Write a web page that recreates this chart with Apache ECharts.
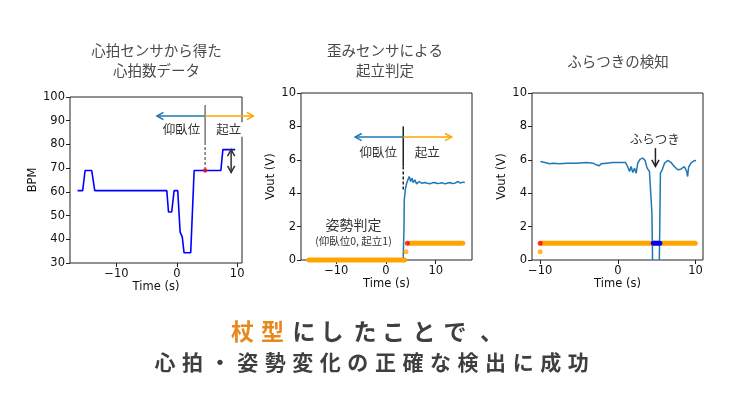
<!DOCTYPE html>
<html><head><meta charset="utf-8">
<script src="https://cdn.jsdelivr.net/npm/echarts@6/dist/echarts.min.js"></script>
<style>html,body{margin:0;padding:0;background:#fff}#c{width:736px;height:414px}</style>
</head><body><div id="c"></div>
<script>
// ---------- data ----------
// Chart 1: heart rate
const hrTime = [-16.45, -15.6, -15.2, -14.1, -13.6, -1.66, -1.38, -0.85, -0.45, 0.15, 0.55, 0.8, 0.9, 1.2, 2.3, 2.87, 7.3, 7.63, 9.67];
const hrBpm  = [60.5, 60.5, 69, 69, 60.5, 60.5, 51.5, 51.5, 60.5, 60.5, 43, 43, 41, 34.3, 34.3, 69, 69, 77.8, 77.8];
const hrStandPoint = [4.69, 69];
const hrTicksX = [-10, 0, 10];

// Chart 2: strain sensor / posture
const strainTime = [-15.6, -12, -8, -4, 0, 3.45, 3.61, 3.68, 3.88, 4.15, 4.41, 4.68, 4.95, 5.22, 5.48, 5.82, 6.15, 6.69, 7.16, 7.83, 8.3, 8.83, 9.3, 9.83, 10.3, 10.84, 11.3, 11.84, 12.3, 12.84, 13.3, 13.85, 14.5, 14.98, 15.4, 15.85];
const strainVout = [0.03, 0.03, 0.04, 0.03, 0.04, 0.04, 1.8, 3.6, 4.2, 4.6, 4.8, 5.0, 4.7, 4.9, 4.64, 4.8, 4.56, 4.7, 4.6, 4.64, 4.6, 4.56, 4.62, 4.64, 4.58, 4.6, 4.63, 4.56, 4.6, 4.64, 4.58, 4.6, 4.7, 4.6, 4.66, 4.64];
const postureLyingTime = [-15.5, 3.75];
const postureLyingVal = [0, 0];
const postureMidPoint = [4.0, 0.5];
const postureStandPoint = [4.3, 1];
const postureStandTime = [4.75, 15.45];
const postureStandVal = [1, 1];
const strainTicksX = [-10, 0, 10];

// Chart 3: sway detection (null = signal off the bottom of the scale)
const swayTime = [-9.96, -9.4, -8.76, -8.33, -7.5, -6.6, -5.3, -4.06, -3.2, -2.78, -2.44, -2.14, -1.5, -0.64, 0.21, 0.98, 1.28, 1.5, 1.7, 1.92, 2.14, 2.35, 2.56, 2.86, 3.2, 3.5, 3.76, 4.06, 4.27, 4.38, 4.46, 4.9, 5.33, 5.41, 5.47, 5.7, 6.0, 6.4, 6.84, 7.26, 7.7, 8.1, 8.55, 8.85, 8.97, 9.1, 9.4, 9.83, 10.04];
const swayVout = [5.9, 5.84, 5.76, 5.8, 5.76, 5.8, 5.8, 5.84, 5.8, 5.7, 5.64, 5.76, 5.8, 5.84, 5.84, 5.84, 5.56, 5.3, 5.6, 5.24, 5.5, 5.2, 5.8, 6.04, 6.1, 5.96, 5.5, 5.3, 5.2, 2.8, 0, null, 0, 2.8, 5.2, 5.4, 5.8, 5.96, 5.84, 5.6, 5.4, 5.44, 5.6, 5.3, 5.0, 5.56, 5.8, 5.96, 5.94];
const swayPostureTime = [-9.8, 9.95];
const swayPostureVal = [1, 1];
const swayStartPoint = [-10, 1];
const swayMidPoint = [-10, 0.5];
const swayDetectTime = [4.55, 5.4];
const swayDetectVal = [1, 1];
const swayTicksX = [-10, 0, 10];

// ---------- helpers ----------
const CJK = '"Noto Sans CJK JP", "Noto Sans CJK SC", sans-serif';
const LAT = '"DejaVu Sans", sans-serif';
const zip = (a, b) => a.map((v, i) => [v, b[i] === null ? '-' : b[i]]);
const minus = v => String(v).replace('-', '\u2212');

function headShape(tip, from, color, lw) {
  const dx = tip[0] - from[0], dy = tip[1] - from[1];
  const L = Math.hypot(dx, dy) || 1, ux = dx / L, uy = dy / L;
  const hl = 6.5, hw = 3.6;
  const bx = tip[0] - ux * hl, by = tip[1] - uy * hl;
  return { type: 'polyline', shape: { points: [[bx - uy * hw, by + ux * hw], tip, [bx + uy * hw, by - ux * hw]] },
    style: { stroke: color, lineWidth: lw, fill: null } };
}

function annSeries(idx, spec) {
  return {
    type: 'custom', xAxisIndex: idx, yAxisIndex: idx, clip: false, silent: true, z: 20,
    data: [[0, 0]],
    renderItem: function (params, api) {
      const ch = [];
      (spec.lines || []).forEach(l => {
        const a = api.coord(l.from), b = api.coord(l.to);
        ch.push({ type: 'line', shape: { x1: a[0], y1: a[1], x2: b[0], y2: b[1] },
          style: { stroke: l.color, lineWidth: l.lw || 1.5, lineDash: l.dash ? [3, 2] : null } });
      });
      (spec.arrows || []).forEach(l => {
        const a = api.coord(l.from), b = api.coord(l.to);
        ch.push({ type: 'line', shape: { x1: a[0], y1: a[1], x2: b[0], y2: b[1] },
          style: { stroke: l.color, lineWidth: 1.5 } });
        ch.push(headShape(b, a, l.color, 1.5));
        if (l.both) ch.push(headShape(a, b, l.color, 1.5));
      });
      (spec.texts || []).forEach(t => {
        const p = api.coord(t.at);
        const st = { text: t.text, x: 0, y: 0, fill: '#333', align: 'center', verticalAlign: 'middle',
          font: (t.size || 12.5) + 'px ' + CJK };
        if (t.bg) { st.backgroundColor = t.bg; st.padding = [1, 2]; }
        ch.push({ type: 'text', x: p[0], y: p[1], style: st });
      });
      return { type: 'group', children: ch };
    }
  };
}

function xAxisCfg(idx, min, max, ticks) {
  return {
    gridIndex: idx, type: 'value', min: min, max: max,
    axisLine: { show: false, onZero: false }, splitLine: { show: false },
    axisTick: { show: true, length: 4, customValues: ticks, lineStyle: { color: '#222', width: 1 } },
    axisLabel: { customValues: ticks, formatter: minus, fontSize: 11.5, color: '#111', fontFamily: LAT, margin: 5 },
    name: 'Time (s)', nameLocation: 'middle', nameGap: 18,
    nameTextStyle: { fontSize: 11.5, color: '#111', fontFamily: LAT, verticalAlign: 'top' }
  };
}
function yAxisCfg(idx, min, max, interval, name, gap) {
  return {
    gridIndex: idx, type: 'value', min: min, max: max, interval: interval,
    axisLine: { show: false, onZero: false }, splitLine: { show: false },
    axisTick: { show: true, length: 4, lineStyle: { color: '#222', width: 1 } },
    axisLabel: { fontSize: 11.5, color: '#111', fontFamily: LAT, margin: 5 },
    name: name, nameLocation: 'middle', nameGap: gap,
    nameTextStyle: { fontSize: 11.5, color: '#111', fontFamily: LAT }
  };
}
const gridBase = { show: true, borderColor: '#222', borderWidth: 1, backgroundColor: 'transparent', containLabel: false };

// ---------- annotations ----------
const ann1 = {
  lines: [
    { from: [4.69, 96.6], to: [4.69, 81], color: '#777' },
    { from: [4.69, 81], to: [4.69, 69.5], color: '#777', dash: true }
  ],
  arrows: [
    { from: [4.69, 92], to: [-3.3, 92], color: '#1f77b4' },
    { from: [4.69, 92], to: [12.7, 92], color: '#ffa500' },
    { from: [9.0, 68.2], to: [9.0, 77.8], color: '#333', both: true }
  ],
  texts: [
    { at: [0.77, 86.3], text: '仰臥位' },
    { at: [8.62, 86.3], text: '起立', bg: '#fff' }
  ]
};
const ann2 = {
  lines: [
    { from: [3.47, 8.0], to: [3.47, 5.6], color: '#222' },
    { from: [3.47, 5.6], to: [3.47, 4.2], color: '#222', dash: true }
  ],
  arrows: [
    { from: [3.47, 7.36], to: [-6.2, 7.36], color: '#1f77b4' },
    { from: [3.47, 7.36], to: [13.2, 7.36], color: '#ffa500' }
  ],
  texts: [
    { at: [-1.55, 6.44], text: '仰臥位' },
    { at: [8.3, 6.44], text: '起立' },
    { at: [-6.55, 2.1], text: '姿勢判定', size: 14 },
    { at: [-6.55, 1.16], text: '(仰臥位0, 起立1)', size: 10.5 }
  ]
};
const ann3 = {
  arrows: [ { from: [4.83, 6.7], to: [4.83, 5.6], color: '#222' } ],
  texts: [ { at: [4.75, 7.24], text: 'ふらつき' } ]
};

// ---------- text graphics ----------
const titleStyle = { fill: '#4a4a4a', font: '14.5px ' + CJK, align: 'center', verticalAlign: 'middle', lineHeight: 19.5 };
const graphics = [
  { type: 'text', x: 156.5, y: 60.5, style: Object.assign({ text: '心拍センサから得た\n心拍数データ' }, titleStyle) },
  { type: 'text', x: 385, y: 60.5, style: Object.assign({ text: '歪みセンサによる\n起立判定' }, titleStyle) },
  { type: 'text', x: 618, y: 61, style: Object.assign({ text: 'ふらつきの検知' }, titleStyle) }
];
const line1 = ['杖', '型', 'に', 'し', 'た', 'こ', 'と', 'で', '、'];
const line1X = [242.5, 272.5, 304, 332, 365, 393.5, 424, 455, 480];
line1.forEach((c, i) => {
  graphics.push({ type: 'text', x: line1X[i], y: 331.5, style: {
    text: c, fill: i < 2 ? '#e8891e' : '#3f3f3f', font: 'bold 23px ' + CJK,
    align: i === line1.length - 1 ? 'left' : 'center', verticalAlign: 'middle' } });
});
const line2 = Array.from('心拍・姿勢変化の正確な検出に成功');
line2.forEach((c, i) => {
  graphics.push({ type: 'text', x: 165 + i * 27.55, y: 361.7, style: {
    text: c, fill: '#3f3f3f', font: 'bold 21px ' + CJK, align: 'center', verticalAlign: 'middle' } });
});

// ---------- chart ----------
const chart = echarts.init(document.getElementById('c'), null, { renderer: 'canvas' });
chart.setOption({
  animation: false,
  backgroundColor: '#fff',
  grid: [
    Object.assign({ left: 70, top: 97, width: 172, height: 166 }, gridBase),
    Object.assign({ left: 301, top: 93, width: 171, height: 167 }, gridBase),
    Object.assign({ left: 532, top: 93, width: 171, height: 167 }, gridBase)
  ],
  xAxis: [
    xAxisCfg(0, -17.7, 10.8, hrTicksX),
    xAxisCfg(1, -17.1, 17.3, strainTicksX),
    xAxisCfg(2, -11.05, 10.95, swayTicksX)
  ],
  yAxis: [
    yAxisCfg(0, 30, 100, 10, 'BPM', 29),
    yAxisCfg(1, 0, 10, 2, 'Vout (V)', 24),
    yAxisCfg(2, 0, 10, 2, 'Vout (V)', 24)
  ],
  series: [
    // chart 1
    { type: 'line', xAxisIndex: 0, yAxisIndex: 0, data: zip(hrTime, hrBpm), showSymbol: false, symbol: 'none',
      lineStyle: { color: '#0000ff', width: 1.6 }, z: 3, clip: true },
    { type: 'scatter', xAxisIndex: 0, yAxisIndex: 0, data: [hrStandPoint], symbolSize: 4.5,
      itemStyle: { color: '#ff0000' }, z: 25 },
    annSeries(0, ann1),
    // chart 2
    { type: 'line', xAxisIndex: 1, yAxisIndex: 1, data: zip(strainTime, strainVout), symbol: 'none',
      lineStyle: { color: '#1f77b4', width: 1.5 }, z: 3, clip: true },
    { type: 'line', xAxisIndex: 1, yAxisIndex: 1, data: zip(postureLyingTime, postureLyingVal), symbol: 'none',
      lineStyle: { color: '#ffa500', width: 5, cap: 'round' }, z: 4, clip: false },
    { type: 'line', xAxisIndex: 1, yAxisIndex: 1, data: zip(postureStandTime, postureStandVal), symbol: 'none',
      lineStyle: { color: '#ffa500', width: 5, cap: 'round' }, z: 4 },
    { type: 'scatter', xAxisIndex: 1, yAxisIndex: 1, data: [postureMidPoint], symbolSize: 5,
      itemStyle: { color: '#ffa500' }, z: 5 },
    { type: 'scatter', xAxisIndex: 1, yAxisIndex: 1, data: [postureStandPoint], symbolSize: 5,
      itemStyle: { color: '#ff0000' }, z: 6 },
    annSeries(1, ann2),
    // chart 3
    { type: 'line', xAxisIndex: 2, yAxisIndex: 2, data: zip(swayTime, swayVout), symbol: 'none', connectNulls: false,
      lineStyle: { color: '#1f77b4', width: 1.5 }, z: 3, clip: true },
    { type: 'line', xAxisIndex: 2, yAxisIndex: 2, data: zip(swayPostureTime, swayPostureVal), symbol: 'none',
      lineStyle: { color: '#ffa500', width: 5, cap: 'round' }, z: 4 },
    { type: 'line', xAxisIndex: 2, yAxisIndex: 2, data: zip(swayDetectTime, swayDetectVal), symbol: 'none',
      lineStyle: { color: '#0000ff', width: 5, cap: 'round' }, z: 5 },
    { type: 'scatter', xAxisIndex: 2, yAxisIndex: 2, data: [swayStartPoint], symbolSize: 5,
      itemStyle: { color: '#ff0000' }, z: 6 },
    { type: 'scatter', xAxisIndex: 2, yAxisIndex: 2, data: [swayMidPoint], symbolSize: 5,
      itemStyle: { color: '#ffa500' }, z: 6 },
    annSeries(2, ann3)
  ],
  graphic: graphics
});
</script>
</body></html>
